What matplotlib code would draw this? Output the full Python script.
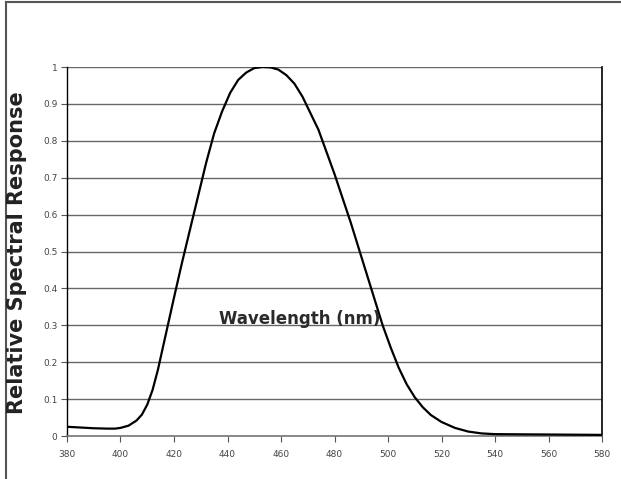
import numpy as np
import matplotlib
matplotlib.use('Agg')
import matplotlib.pyplot as plt
from matplotlib.lines import Line2D

# relative spectral response
wavelength = [380, 385, 390, 395, 398, 400, 403, 406, 408, 410, 412, 414, 416,
              418, 420, 423, 426, 429, 432, 435, 438, 441, 444, 447, 450, 453,
              456, 459, 462, 465, 468, 471, 474, 477, 480, 483, 486, 489, 492,
              495, 498, 501, 504, 507, 510, 513, 516, 520, 525, 530, 535, 540,
              560, 580]
response = [0.025, 0.023, 0.021, 0.02, 0.02, 0.022, 0.028, 0.042, 0.058, 0.085,
            0.125, 0.18, 0.245, 0.31, 0.375, 0.47, 0.56, 0.65, 0.74, 0.82, 0.88,
            0.93, 0.965, 0.985, 0.997, 1.0, 0.999, 0.993, 0.978, 0.955, 0.92,
            0.875, 0.83, 0.77, 0.71, 0.645, 0.58, 0.51, 0.44, 0.37, 0.30, 0.24,
            0.185, 0.14, 0.105, 0.078, 0.057, 0.038, 0.022, 0.012, 0.007, 0.005,
            0.004, 0.003]
xticks = list(range(380, 581, 20))
yticks = [0, 0.1, 0.2, 0.3, 0.4, 0.5, 0.6, 0.7, 0.8, 0.9, 1]
ytick_labels = ['0', '0.1', '0.2', '0.3', '0.4', '0.5', '0.6', '0.7', '0.8', '0.9', '1']

W, H = 621, 479
fig = plt.figure(figsize=(W / 100, H / 100), dpi=100)
ax = fig.add_axes([67 / W, 1 - 436 / H, (602 - 67) / W, (436 - 67) / H])

ax.plot(wavelength, response, color='black', lw=1.6, zorder=3)

ax.set_xlim(380, 580)
ax.set_ylim(0, 1)
ax.set_xticks(xticks)
ax.set_yticks(yticks)
ax.set_yticklabels(ytick_labels)
ax.yaxis.grid(True, color='#666666', lw=1.0)
ax.set_axisbelow(True)

ax.spines['top'].set_visible(False)
ax.spines['left'].set_color('black')
ax.spines['right'].set_color('black')
ax.spines['bottom'].set_color('#777777')
ax.spines['left'].set_linewidth(1.0)
ax.spines['right'].set_linewidth(1.2)
ax.spines['bottom'].set_linewidth(1.2)

ax.tick_params(axis='both', labelsize=6.5, labelcolor='#444444', color='#555555',
               length=4, width=0.8)
ax.tick_params(axis='x', pad=6)
ax.tick_params(axis='y', pad=3)

ax.text(467, 0.303, 'Wavelength (nm)', ha='center', va='baseline',
        fontsize=12, fontweight='bold', color='#2a2a2a')
fig.text(17 / W, 1 - 253 / H, 'Relative Spectral Response', rotation=90,
         ha='center', va='center', fontsize=15, fontweight='bold', color='#222222')

# outer frame on left and top
fig.add_artist(Line2D([6 / W, 6 / W], [0, 1 - 2 / H], color='#555555', lw=1.5))
fig.add_artist(Line2D([6 / W, 1], [1 - 2 / H, 1 - 2 / H], color='#555555', lw=1.5))

fig.savefig('out.png', dpi=100)
